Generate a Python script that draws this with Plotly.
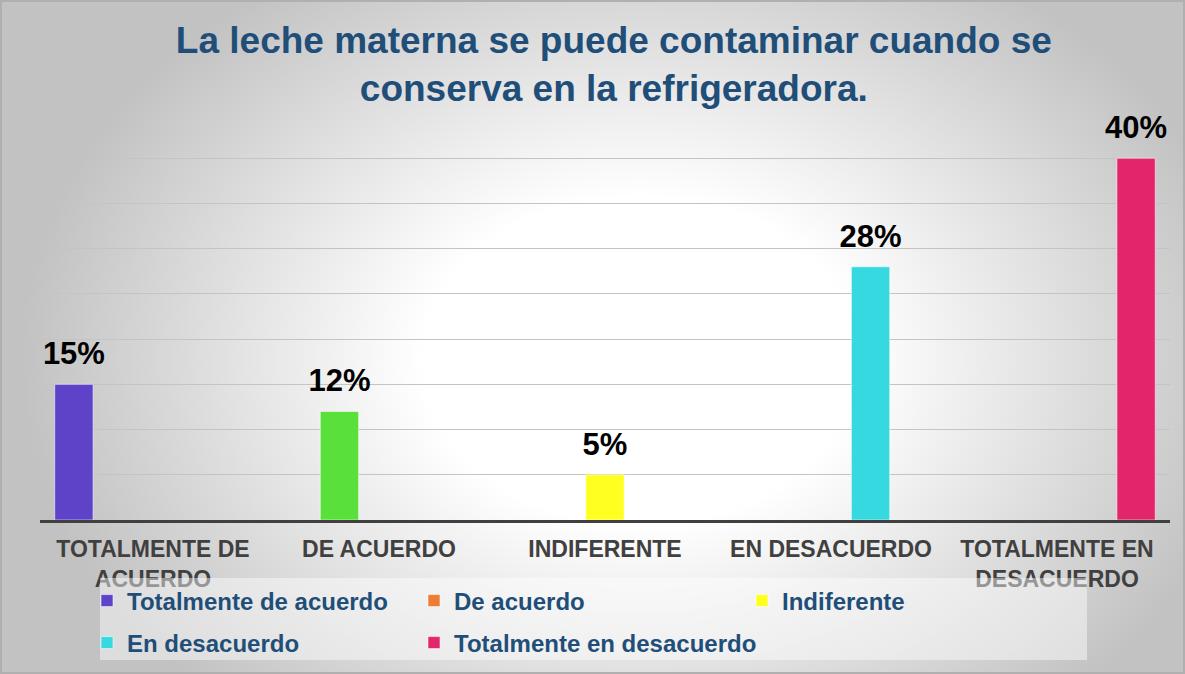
import plotly.graph_objects as go

# ---- data ----
categories = ["TOTALMENTE DE<br>ACUERDO", "DE ACUERDO", "INDIFERENTE",
              "EN DESACUERDO", "TOTALMENTE EN<br>DESACUERDO"]
series_names = ["Totalmente de acuerdo", "De acuerdo", "Indiferente",
                "En desacuerdo", "Totalmente en desacuerdo"]
values = [15, 12, 5, 28, 40]
bar_colors = ["#5E43C9", "#59E03A", "#FFFF22", "#37D9E0", "#E3256B"]
legend_colors = ["#5E43C9", "#ED7D31", "#FFFF22", "#37D9E0", "#E3256B"]
title_text = "La leche materna se puede contaminar cuando se<br>conserva en la refrigeradora."

TITLE_BLUE = "#1F4E79"
FONT = "Arial, Liberation Sans, sans-serif"

L, R, T, B = 40, 15, 113, 154
W, H = 1185, 674
pw, ph = W - L - R, H - T - B
GAP = 0.125


def px_x(x):
    return (x - L) / pw


def px_y(y):
    return (H - B - y) / ph


legend_ids = ["legend", "legend2", "legend3", "legend4", "legend5"]
# legend entry anchor pixels (marker left, row centre) - layout only
legend_pos = [(110, 601), (437, 601), (765, 601), (110, 643), (437, 643)]

fig = go.Figure()
for i, name in enumerate(series_names):
    ys = [values[i] if j == i else None for j in range(len(categories))]
    # first point colour is what the legend shows
    cols = [legend_colors[i]] + [bar_colors[i]] * (len(categories) - 1)
    if i == 0:
        cols = [bar_colors[i]] * len(categories)
    fig.add_trace(go.Bar(
        x=categories, y=ys, name=name, offsetgroup=str(i),
        marker=dict(color=cols, line=dict(color="rgba(255,255,255,0.55)", width=1)),
        legend=legend_ids[i], hoverinfo="skip",
    ))

# data labels, grouped the same way as the bars
for i, name in enumerate(series_names):
    ys = [values[i] if j == i else None for j in range(len(categories))]
    txt = [f"{values[i]}%" if j == i else "" for j in range(len(categories))]
    fig.add_trace(go.Scatter(
        x=categories, y=ys, text=txt, mode="markers+text", orientation="v",
        offsetgroup=str(i), alignmentgroup="lbl",
        textposition="top center", cliponaxis=False, showlegend=False,
        marker=dict(size=18, color="rgba(0,0,0,0)"),
        textfont=dict(size=31, color="#000000", family=FONT, weight="bold"),
        hoverinfo="skip",
    ))

svg = ("data:image/svg+xml;utf8,"
       "<svg xmlns='http://www.w3.org/2000/svg' width='1185' height='674' "
       "preserveAspectRatio='none' viewBox='0 0 1185 674'>"
       "<defs><radialGradient id='g' gradientUnits='userSpaceOnUse' cx='640' cy='360' r='620' "
       "gradientTransform='translate(640 360) scale(1 0.75) translate(-640 -360)'>"
       "<stop offset='0' stop-color='%23FFFFFF'/>"
       "<stop offset='0.35' stop-color='%23FFFFFF'/>"
       "<stop offset='1' stop-color='%23C2C2C2'/></radialGradient></defs>"
       "<rect x='0' y='0' width='1185' height='674' fill='url(%23g)'/>"
       "<rect x='1' y='1' width='1183' height='672' fill='none' stroke='%23B0B0B0' stroke-width='2'/>"
       "</svg>")

legend_layouts = {}
for lid, (mx, my) in zip(legend_ids, legend_pos):
    legend_layouts[lid] = dict(
        orientation="v", x=px_x(mx - 23), xanchor="left", y=px_y(my), yanchor="middle",
        bgcolor="rgba(0,0,0,0)", borderwidth=0,
        font=dict(size=24, color=TITLE_BLUE, family=FONT, weight="bold"),
    )

fig.update_layout(
    width=W, height=H, showlegend=True,
    margin=dict(l=L, r=R, t=T, b=B, autoexpand=False),
    paper_bgcolor="#E6E6E6", plot_bgcolor="rgba(0,0,0,0)",
    barmode="group", bargap=GAP, bargroupgap=0.03,
    scattermode="group", scattergap=GAP,
    font=dict(family=FONT),
    title=dict(text=title_text, x=0.518, xanchor="center", y=0.922, yanchor="middle",
               font=dict(size=37, color=TITLE_BLUE, family=FONT, weight="bold")),
    xaxis=dict(showline=True, linecolor="#404040", linewidth=3,
               ticks="outside", ticklen=6, tickcolor="rgba(0,0,0,0)",
               tickfont=dict(size=23, color="#404040", family=FONT, weight="bold"),
               showgrid=False, fixedrange=True),
    yaxis=dict(range=[0, 45], dtick=5, showticklabels=False,
               showgrid=True, gridcolor="#C4C4C4", gridwidth=1,
               zeroline=False, fixedrange=True),
    shapes=[dict(type="rect", xref="paper", yref="paper",
                 x0=px_x(100), x1=px_x(1087), y0=px_y(578), y1=px_y(660),
                 fillcolor="rgba(255,255,255,0.45)", line=dict(width=0), layer="above")],
    images=[dict(source=svg, xref="paper", yref="paper",
                 x=px_x(0), y=px_y(0), sizex=W / pw, sizey=H / ph,
                 xanchor="left", yanchor="top", sizing="stretch", layer="below")],
    **legend_layouts,
)

fig.write_html("out.html", config={"displayModeBar": False},
               post_script="document.body.style.margin='0';")
